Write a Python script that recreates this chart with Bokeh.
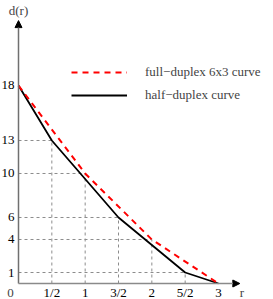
from bokeh.plotting import figure
from bokeh.models import Range1d, Arrow, NormalHead, Label, Legend, LegendItem, ColumnDataSource
from bokeh.core.properties import value
from bokeh.embed import file_html
from bokeh.resources import INLINE

# ---- data ----
full_r = [0, 1, 2, 3]
full_d = [18, 10, 4, 0]
half_r = [0, 0.5, 1.5, 2.5, 3]
half_d = [18, 13, 6, 1, 0]
grid_r = [0.5, 1, 1.5, 2, 2.5]
grid_d = [13, 10, 6, 4, 1]
x_ticks = [0.5, 1, 1.5, 2, 2.5, 3]
x_tick_labels = ["1/2", "1", "3/2", "2", "5/2", "3"]
y_ticks = [18, 13, 10, 6, 4, 1]
y_tick_labels = ["18", "13", "10", "6", "4", "1"]
full_label = "full\u2212duplex 6x3 curve"
half_label = "half\u2212duplex curve"

W, H = 273, 299
FONT = "'Liberation Serif', 'Times New Roman', serif"
FS = "13px"

p = figure(width=W, height=H, output_backend="svg", toolbar_location=None,
           x_range=Range1d(-0.27, 3.825), y_range=Range1d(-1.4545, 25.727),
           min_border=0, outline_line_color=None)
p.axis.visible = False
p.grid.visible = False
p.background_fill_color = "white"
p.border_fill_color = "white"
p.styles = {"position": "absolute", "left": "0px", "top": "0px"}

# dashed guide lines
p.segment(x0=grid_r, y0=[0] * len(grid_r), x1=grid_r, y1=grid_d,
          line_color="#8c8c8c", line_width=1, line_dash="3 3")
p.segment(x0=[0] * len(grid_r), y0=grid_d, x1=grid_r, y1=grid_d,
          line_color="#8c8c8c", line_width=1, line_dash="3 3")

# axes with arrows
p.add_layout(Arrow(end=NormalHead(size=7, fill_color="black", line_color="black"),
                   x_start=0, y_start=0, x_end=0, y_end=23.9,
                   line_color="#707070", line_width=1.5))
p.add_layout(Arrow(end=NormalHead(size=7, fill_color="black", line_color="black"),
                   x_start=0, y_start=0, x_end=3.32, y_end=0,
                   line_color="#8a8a8a", line_width=1.5))

# curves
r_half = p.line(half_r, half_d, line_color="black", line_width=1.8)
r_full = p.line(full_r, full_d, line_color="red", line_width=2, line_dash="6 5")

# tick labels
xs = ColumnDataSource(dict(x=x_ticks, y=[0] * len(x_ticks), t=x_tick_labels))
p.text(x="x", y="y", text="t", source=xs, text_font=value(FONT), text_font_size=FS,
       text_align="center", text_baseline="middle", y_offset=9, text_color="black")
ys = ColumnDataSource(dict(x=[0] * len(y_ticks), y=y_ticks, t=y_tick_labels))
p.text(x="x", y="y", text="t", source=ys, text_font=value(FONT), text_font_size=FS,
       text_align="right", text_baseline="middle", x_offset=-4, text_color="black")

p.add_layout(Label(x=0, y=0, text="0", x_offset=-8, y_offset=-9,
                   text_font=FONT, text_font_size=FS, text_align="center",
                   text_baseline="middle"))
p.add_layout(Label(x=0, y=23.9, text="d(r)", y_offset=3,
                   text_font=FONT, text_font_size=FS, text_align="center",
                   text_baseline="bottom"))
p.add_layout(Label(x=3.32, y=0, text="r", x_offset=2, y_offset=-9,
                   text_font=FONT, text_font_size=FS, text_align="center",
                   text_baseline="middle"))

legend = Legend(items=[LegendItem(label=full_label, renderers=[r_full]),
                       LegendItem(label=half_label, renderers=[r_half])],
                location=(71, 194), glyph_width=56, glyph_height=20,
                label_height=20, spacing=3, label_standoff=18, padding=0, margin=0,
                border_line_color=None, background_fill_alpha=0,
                label_text_font=FONT, label_text_font_size=FS)
p.add_layout(legend)

open("out.html", "w").write(file_html(p, INLINE))
